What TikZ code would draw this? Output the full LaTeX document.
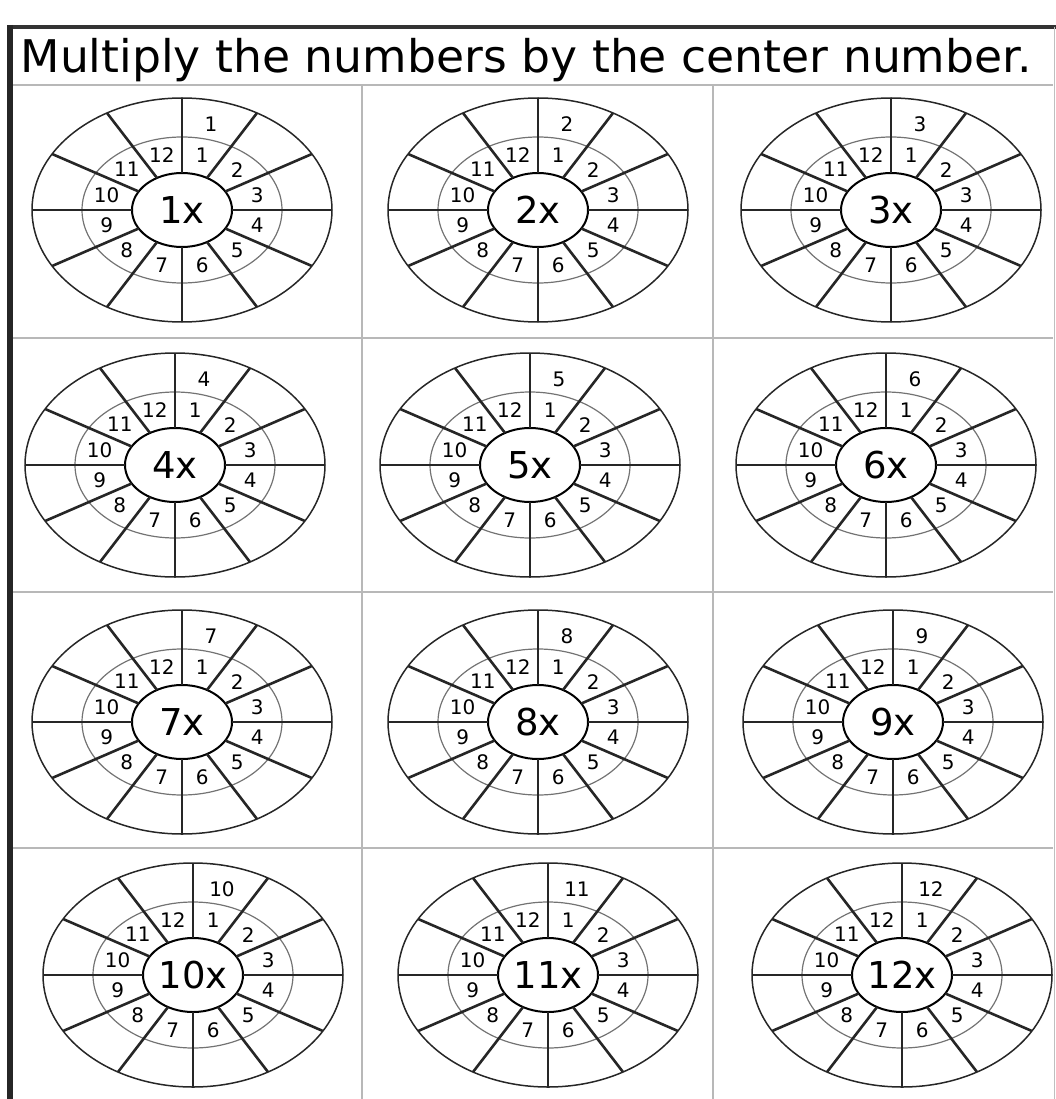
\documentclass[tikz,border=0pt]{standalone}
\usepackage{fontspec}
\setmainfont{DejaVu Sans}
\begin{document}
\begin{tikzpicture}[
  x=1pt, y=-1pt,
  gridline/.style={draw=black!28, line width=1.6pt},
  outerring/.style={draw=black!85, line width=1.5pt},
  midring/.style={draw=black!55, line width=1.2pt},
  hubring/.style={draw=black, line width=2pt},
  spoke/.style={draw=black!85, line width=2.6pt},
  ringnum/.style={font=\fontsize{20}{20}\selectfont, inner sep=0pt},
  hubnum/.style={font=\fontsize{37}{37}\selectfont, inner sep=0pt},
]
\useasboundingbox (0,0) rectangle (1056,1099);

% ---- Frame and title ----
\draw[line width=4pt, black!80] (7,27) -- (1056,27);
\draw[line width=6pt, black!85] (10,25) -- (10,1099);
\draw[line width=1pt, black!25] (1054,27) -- (1054,1099);
\node[anchor=base west, xscale=1.015, font=\fontsize{45}{45}\selectfont] (title) at (17,73)
  {Multiply the numbers by the center number.};

% ---- Grid ----
\foreach \yy in {85,338,592,848}
  \draw[gridline] (13,\yy) -- (1053,\yy);
\foreach \xx in {362,713}
  \draw[gridline] (\xx,85) -- (\xx,1099);

% ---- Wheels ----
\foreach \n/\cx/\cy in {1/182/210, 2/538/210, 3/891/210,
                        4/175/465, 5/530/465, 6/886/465,
                        7/182/722, 8/538/722, 9/893/722,
                        10/193/975, 11/548/975, 12/902/975}{
  \begin{scope}[shift={(\cx,\cy)}]
    \draw[outerring] (0,0) ellipse [x radius=150pt, y radius=112pt];
    \draw[midring] (0,0) ellipse [x radius=100pt, y radius=73pt];
    \draw[hubring] (0,0) ellipse [x radius=50pt, y radius=37pt];
    \foreach \a in {0,30,...,330}
      \draw[spoke] (\a:50 and 37) -- (\a:150 and 112);
    \node[hubnum] (hub\n) at (0,0) {\n x};
    \foreach \k in {1,...,12}
      \node[ringnum] (r\n-\k) at ({30*\k-105}:78 and 57) {\k};
    \node[ringnum] (top\n) at (-75:112 and 89) {\n};
  \end{scope}
}
\end{tikzpicture}
\end{document}
